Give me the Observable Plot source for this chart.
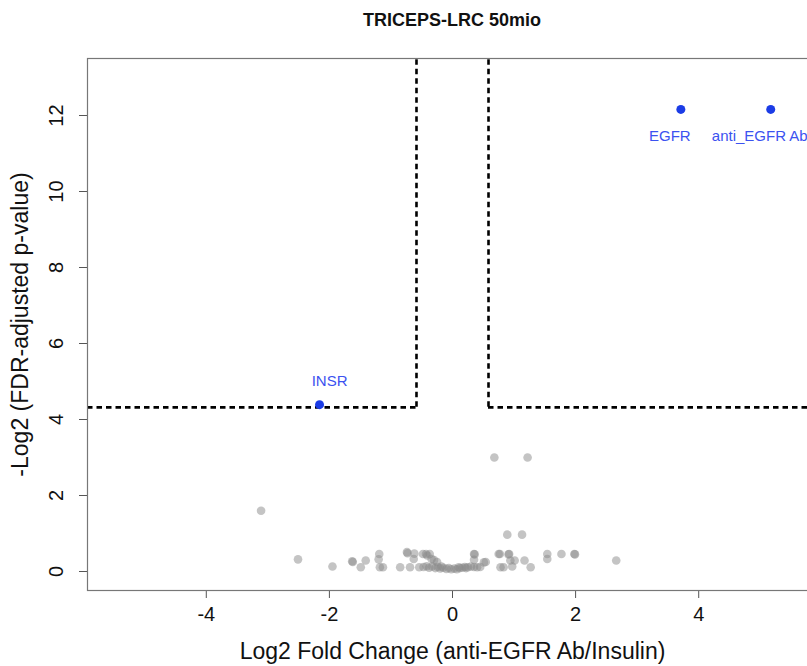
<!DOCTYPE html>
<html>
<head>
<meta charset="utf-8">
<script src="https://cdn.jsdelivr.net/npm/d3@7"></script>
<script src="https://cdn.jsdelivr.net/npm/@observablehq/plot@0.6"></script>
<style>
  body { margin: 0; background: white; font-family: "Liberation Sans", Arial, sans-serif; }
  #title { width: 807px; height: 40px; line-height: 40px; box-sizing: border-box; padding-left: 97px;
           text-align: center; font-weight: bold; font-size: 18px; color: #111; }
  #chart svg { display: block; overflow: hidden; }
</style>
</head>
<body>
<div id="title">TRICEPS-LRC 50mio</div>
<div id="chart"></div>
<script>
// Non-significant proteins (grey)
const grayFC = [-3.11, -2.51, -1.95, -1.63, -1.62, -1.49, -1.41, -1.19, -1.20, -1.18, -1.13,
  -0.85, -0.74, -0.73, -0.69, -0.63, -0.62, -0.54, -0.48, -0.43, -0.37, -0.41, -0.34, -0.25, -0.30,
  -0.47, -0.42, -0.38, -0.33, -0.28, -0.24, -0.20, -0.15, -0.10, -0.06, -0.02, 0.03, 0.07, 0.12,
  0.16, 0.20, 0.25, 0.30, 0.35, 0.40, 0.45, -0.18, 0.10, 0.22,
  0.35, 0.36, 0.35, 0.51, 0.54, 0.75, 0.77, 0.92, 0.91, 0.78, 0.83, 0.97, 0.94, 1.01, 1.17, 1.27,
  1.54, 1.54, 1.77, 1.98, 1.99, 2.66, 0.89, 1.13, 0.68, 1.22];
const grayP = [1.60, 0.32, 0.13, 0.27, 0.25, 0.11, 0.29, 0.46, 0.32, 0.11, 0.11,
  0.11, 0.51, 0.48, 0.11, 0.33, 0.47, 0.11, 0.46, 0.46, 0.46, 0.42, 0.33, 0.25, 0.30,
  0.12, 0.14, 0.10, 0.13, 0.09, 0.12, 0.08, 0.10, 0.07, 0.09, 0.06, 0.08, 0.06, 0.09,
  0.10, 0.12, 0.11, 0.13, 0.12, 0.11, 0.12, 0.13, 0.11, 0.09,
  0.46, 0.45, 0.31, 0.24, 0.25, 0.46, 0.46, 0.46, 0.45, 0.11, 0.11, 0.13, 0.29, 0.29, 0.29, 0.11,
  0.46, 0.33, 0.46, 0.46, 0.45, 0.29, 0.97, 0.97, 3.00, 3.00];

// Significant hits (blue)
const hitNames = ["EGFR", "anti_EGFR Ab", "INSR"];
const hitFC = [3.71, 5.17, -2.16];
const hitP = [12.16, 12.16, 4.39];

// Thresholds
const fcThresholds = [-0.585, 0.585];
const pThreshold = 4.32;

// Axes
const xTicks = [-4, -2, 0, 2, 4];
const yTicks = [0, 2, 4, 6, 8, 10, 12];
const xDomain = [-5.93, 5.93];
const yDomain = [-0.5, 13.5];
const xLabel = "Log2 Fold Change (anti-EGFR Ab/Insulin)";
const yLabel = "-Log2 (FDR-adjusted p-value)";

const gray = grayFC.map((x, i) => ({x, y: grayP[i]}));
const hits = hitNames.map((name, i) => ({name, x: hitFC[i], y: hitP[i]}));

const blue = "#1b3ce6";
const labelBlue = "#3b52f0";
const dash = {stroke: "black", strokeWidth: 2.6, strokeDasharray: "5.5,4"};

const plot = Plot.plot({
  width: 807,
  height: 626,
  marginLeft: 87,
  marginRight: -10,
  marginTop: 18,
  marginBottom: 76,
  x: {domain: xDomain},
  y: {domain: yDomain},
  style: {fontFamily: "'Liberation Sans', Arial, sans-serif", background: "white", overflow: "hidden"},
  marks: [
    Plot.axisX({ticks: xTicks, tickSize: 8, tickPadding: 8, fontSize: 20, label: null, stroke: "#555", color: "#111", tickFormat: d => String(d)}),
    Plot.axisY({ticks: yTicks, tickSize: 8, tickFormat: () => "", label: null, stroke: "#555"}),
    Plot.text(yTicks, {y: d => d, text: d => String(d), frameAnchor: "left", textAnchor: "middle", lineAnchor: "middle", dx: -31, rotate: -90, fontSize: 20, fill: "#111"}),
    Plot.text([xLabel], {text: d => d, frameAnchor: "bottom", lineAnchor: "middle", dy: 61, fontSize: 23, fill: "#111"}),
    Plot.text([yLabel], {text: d => d, frameAnchor: "left", textAnchor: "middle", lineAnchor: "middle", dx: -67, rotate: -90, fontSize: 23, fill: "#111"}),
    Plot.dot(gray, {x: "x", y: "y", r: 4.3, fill: "#8a8a8a", fillOpacity: 0.5, stroke: "none"}),
    Plot.ruleX(fcThresholds, {x: d => d, y1: pThreshold, y2: yDomain[1], ...dash}),
    Plot.ruleY([pThreshold], {y: d => d, x1: xDomain[0], x2: fcThresholds[0], ...dash}),
    Plot.ruleY([pThreshold], {y: d => d, x1: fcThresholds[1], x2: xDomain[1], ...dash}),
    Plot.dot(hits, {x: "x", y: "y", r: 4.5, fill: blue, stroke: "none"}),
    Plot.text(hits.filter(d => d.name !== "INSR"), {x: "x", y: "y", text: "name", dx: -11, dy: 27, fontSize: 15, fill: labelBlue}),
    Plot.text(hits.filter(d => d.name === "INSR"), {x: "x", y: "y", text: "name", dx: 10, dy: -23, fontSize: 15, fill: labelBlue}),
    Plot.frame({stroke: "#777", strokeWidth: 1.2})
  ]
});
document.getElementById("chart").appendChild(plot);
</script>
</body>
</html>
